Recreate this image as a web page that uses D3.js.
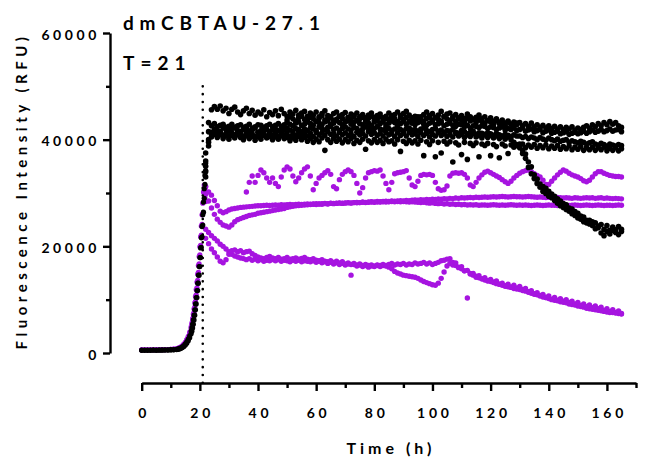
<!DOCTYPE html>
<html><head><meta charset="utf-8">
<script src="https://cdn.jsdelivr.net/npm/d3@7"></script>
<style>
html,body{margin:0;padding:0;background:#fff;}
svg text{font-family:Lato,"Open Sans",sans-serif;font-weight:700;fill:#000;}
</style></head><body><svg id="chart" width="645" height="463"></svg>
<script>
// ---------- DATA ----------
const titleText = "dmCBTAU-27.1";
const subtitleText = "T=21";
const xLabel = "Time (h)";
const yLabel = "Fluorescence Intensity (RFU)";
const xMajorTicks = [0,20,40,60,80,100,120,140,160];
const xMinorTicks = [10,30,50,70,90,110,130,150,170];
const yMajorTicks = [0,20000,40000,60000];
const yMinorTicks = [10000,30000,50000];
const markerHour = 21;

// early growth phase (h)
const riseHours = [0,1,2,3,4,5,6,7,8,9,10,11,
  12,12.5,13,13.5,14,14.5,15,15.5,16,16.5,17,
  17.25,17.5,17.75,18,18.25,18.5,18.75,19,19.25,19.5,19.75,20,20.25,20.5,20.75,21,21.25,21.5,21.75,22];
const blackRiseA = [550,560,550,560,570,560,570,580,590,600,620,650,
  700,760,850,980,1150,1400,1700,2100,2600,3200,4100,
  4700,5400,6200,7100,8100,9200,10400,11700,13100,14600,16200,17900,19700,21600,23700,25900,28300,30800,33300,35600];
const blackRiseB = [500,510,500,510,520,510,520,530,540,550,570,600,
  640,690,770,880,1020,1230,1500,1850,2300,2850,3600,
  4100,4700,5400,6200,7100,8100,9200,10400,11700,13100,14600,16200,17900,19800,21800,24000,26400,29000,31600,34200];
const purpleRiseA = [600,600,610,600,610,620,620,630,640,660,690,730,
  800,880,1000,1150,1350,1650,2000,2500,3100,3900,4900,
  5600,6400,7300,8300,9400,10600,11900,13300,14800,16400,18100,19900,21800,23800,25900,28100,30200,31500,30800,31200];
const purpleRiseB = [580,590,580,590,600,600,610,620,630,650,680,720,
  780,860,970,1120,1320,1600,1950,2400,2950,3700,4600,
  5200,5900,6700,7600,8600,9700,10900,12200,13600,15100,16700,18400,20200,22100,24100,26200,28300,30000,29200,28400];

// plateau phase (h)
const hours = [22,23,24,25,26,27,28,29,30,31,32,33,
  34,35,36,37,38,39,40,41,42,43,44,45,
  46,47,48,49,50,51,52,53,54,55,56,57,
  58,59,60,61,62,63,64,65,66,67,68,69,
  70,71,72,73,74,75,76,77,78,79,80,81,
  82,83,84,85,86,87,88,89,90,91,92,93,
  94,95,96,97,98,99,100,101,102,103,104,105,
  106,107,108,109,110,111,112,113,114,115,116,117,
  118,119,120,121,122,123,124,125,126,127,128,129,
  130,131,132,133,134,135,136,137,138,139,140,141,
  142,143,144,145,146,147,148,149,150,151,152,153,
  154,155,156,157,158,159,160,161,162,163,164,165];

const black1 = [37500,43200,45600,46200,45700,46300,45400,45900,44900,45700,46100,45200,
  44700,45400,45900,44900,45500,44600,45200,44800,45600,44300,45100,44700,
  45400,44500,45700,44900,44400,45200,44800,45500,44600,45000,45300,44400,
  45000,44600,45200,44300,44900,45400,44500,44100,44900,45200,44400,44700,
  45100,44200,44800,44500,45000,44300,44700,44100,44600,45000,44200,44500,
  44800,44100,44400,45000,44300,44700,45200,44500,44900,45300,44600,44100,
  44400,43800,44300,44700,45200,44500,44900,44200,44600,45300,44400,44800,
  45000,44300,44700,44100,44500,44000,44800,44300,43800,44200,44600,43900,
  44300,43600,44100,43500,43900,43300,43700,43100,43500,42900,43300,42800,
  43200,42600,43000,42500,43100,42400,42800,42300,42700,42200,42600,42100,
  42500,42000,42400,41900,42300,42000,42400,41800,42200,41900,42300,42600,
  42200,42800,42400,43000,42600,43200,42800,43400,42900,43200,42600,42300];
const black2 = [35000,40000,41400,42000,41700,41500,42200,41900,41600,42100,42300,41700,
  41500,41900,42100,41600,41800,42200,41400,41700,42000,41900,41500,41800,
  42000,41700,41500,41900,42200,41800,41600,42100,41900,41500,42000,41700,
  42200,42000,41700,42400,42100,41800,42300,42500,41900,42200,41700,42100,
  42400,42000,41800,42300,42100,41600,42000,42400,42200,41800,42100,42500,
  42000,41800,42300,42100,41700,42000,42300,41900,41600,42100,42200,41800,
  41900,41600,42000,42200,41700,41500,41900,42100,41600,41800,41400,41700,
  41600,41900,41400,41200,41700,41500,41100,41400,41600,41000,41300,41200,
  41000,41300,41100,40800,41200,40900,40700,41000,40800,40600,40900,40700,
  40700,40400,40600,40200,40500,40300,40000,40400,40100,39900,40300,40000,
  39800,40100,39700,39900,40000,39500,39800,39600,39400,39700,39500,39200,
  39400,39600,39200,39000,39300,39100,38800,39200,39000,38800,39100,38900];
const black3 = [34000,39500,41000,41500,40900,41400,40800,41200,40600,41300,40900,41500,
  41000,40700,41300,40800,41100,40600,41400,40900,41200,40700,41300,40800,
  41200,40700,41400,40900,41300,40600,41100,40800,41500,41000,41300,40700,
  41200,40600,41400,40900,41300,40800,41500,41000,41200,40700,41400,40900,
  41300,40800,41100,40600,41400,40900,41200,40700,41500,41000,41300,40800,
  41200,40700,41400,40900,41100,40600,41300,40800,41200,40700,41400,40900,
  41100,40600,41300,40800,41200,40500,41000,40700,41300,40800,41100,40600,
  41000,40500,41200,40700,41000,40400,40900,40600,41100,40500,40800,40300,
  40900,40400,40800,40300,40700,40200,40600,40100,40500,40000,39500,38900,
  38500,37400,37300,35800,34900,32700,32600,31100,31200,29900,30300,29100,
  29400,28100,28500,27300,27800,26600,27000,25800,26200,25100,25500,24400,
  24900,23900,24400,23500,24100,22000,23900,23000,23600,23100,23700,23200];
const black4 = [33000,38800,40500,41000,40400,40900,40200,40700,40100,40800,40300,40900,
  40400,40000,40700,40200,40600,39900,40500,40100,40800,40300,40600,40000,
  40500,40100,40700,40200,40400,39800,40300,39900,40600,40000,40400,39700,
  40200,39500,40100,39600,40300,38000,40000,39500,40200,39700,40100,39400,
  40000,39600,40200,39300,39900,39500,40100,38200,39800,39400,40000,39500,
  39900,39300,40100,39600,39800,39200,40000,37800,39700,39300,39900,39400,
  39800,39200,39900,37000,39600,39100,39800,36800,39500,37500,39700,39200,
  39600,35800,39400,39000,37200,39500,36300,39300,38900,39400,36800,39200,
  38900,39300,37000,39100,38700,36600,39200,38800,37400,39000,38600,39100,
  38800,39200,38500,39000,38600,39100,38400,38900,38500,39000,38300,38800,
  38400,38900,38200,38700,38300,38800,38100,38600,38200,38700,38000,38500,
  38100,38600,38000,38500,38100,38600,37900,38400,38000,38500,37900,38300];
const black5 = [36000,41500,42600,43000,42400,42700,42900,42300,42500,42900,42200,42600,
  42800,42300,42500,42900,42200,42400,42800,42700,42300,42600,42900,42400,
  42700,43000,42500,42800,43200,42900,42600,43100,43300,42700,42900,43300,
  43000,42700,43400,43200,42800,43300,43500,42900,43100,43600,43200,42800,
  43300,43500,42900,43200,43600,43000,42800,43400,43100,42700,43300,43500,
  43000,43300,42800,43100,43500,43200,42700,43000,43400,42900,43300,43100,
  42800,43200,43400,42900,42700,43100,43300,42800,43000,43200,42600,42900,
  43100,42700,42500,42900,42800,42400,42700,42200,42600,42500,42300,42600,
  42500,42100,42400,42300,41900,42200,42400,41800,42100,41900,42200,41700,
  41900,42200,41600,41800,42000,41500,41700,41900,41300,41600,41800,41200,
  41400,41600,41100,41300,41500,41000,41200,41400,41100,41300,41600,41200,
  41500,41800,41400,41600,41900,41500,41700,42000,41600,41800,41900,41500];
const black6 = [null,null,null,null,null,null,null,null,null,null,null,null,
  null,null,null,null,null,null,null,null,null,null,null,null,
  null,null,null,null,43700,44300,43900,43500,44100,44400,43800,43600,
  44200,43900,43400,44000,44500,43700,43900,44300,43600,43800,44400,44000,
  43500,44100,43800,44300,43600,43900,44200,43500,44000,44400,43700,43900,
  44300,43600,44000,43800,44500,43900,43400,44100,43800,44200,43500,44000,
  43700,44300,43900,43400,44000,44200,43600,44100,43800,43500,44300,43900,
  43600,44000,43400,43900,43700,43300,44000,43500,43800,43200,43700,43400,
  43100,43600,43300,42900,43500,43000,43200,42700,43300,42900,42600,43100,
  null,null,null,null,null,null,null,null,null,null,null,null,
  null,null,null,null,null,null,null,null,null,null,null,null,
  null,null,null,null,null,null,null,null,null,null,null,null];
const black7 = [null,null,null,null,null,null,null,null,null,null,null,null,
  null,null,null,null,null,null,null,null,null,null,null,null,
  null,null,null,null,null,null,null,null,null,null,null,null,
  null,null,null,null,null,null,null,null,null,null,null,null,
  null,null,null,null,null,null,null,null,null,null,null,null,
  null,null,null,null,null,null,null,null,null,null,null,null,
  null,null,null,null,null,null,null,null,null,null,null,null,
  null,null,null,null,null,null,null,null,null,null,null,null,
  null,null,null,null,null,null,null,null,null,null,null,null,
  39200,38000,36500,34800,33600,33400,31800,31700,30300,30900,29400,29800,
  28600,28900,27600,28000,26900,27200,26100,26500,25300,25700,24600,24900,
  24200,24600,23300,23800,22500,23200,22800,22300,23000,22600,22200,22800];

const purple1 = [null,null,null,null,null,null,null,null,null,null,null,null,
  null,null,30200,32000,33200,32000,33300,34300,33800,32800,32000,32800,
  31800,31200,33000,34300,34900,34500,33200,32100,32800,33800,34500,34900,
  33200,30600,31800,32800,33300,33800,34200,33500,31200,30800,32500,33500,
  34000,34300,34000,33300,31800,30000,31000,32800,33800,34000,34200,34100,
  34300,33200,31800,30600,32000,33600,33800,33900,34000,34200,32800,31500,
  31200,32200,33300,33500,33400,33500,33300,32000,30800,30500,30600,31300,
  33200,33700,33800,33700,33800,33500,32800,31500,31200,32000,32800,33400,
  33900,34100,33800,33500,33200,32900,32500,32100,31800,32200,32800,33300,
  33700,34000,34200,34300,34000,33600,33300,33000,32400,31600,31600,32200,
  32800,33400,33900,34300,34100,33700,33400,33200,33000,32700,32300,32100,
  32400,33000,33600,34000,34000,33700,33500,33300,33200,33100,33100,33000];
const purple2 = [31200,30200,29600,28600,27600,26600,26300,26500,26800,27000,27100,27200,
  27300,27350,27400,27450,27500,27550,27600,27600,27650,27700,27650,27700,
  27750,27700,27800,27750,27800,27850,27800,27850,27900,27850,27900,27950,
  27900,27950,28000,27950,28000,28050,28000,28100,28050,28100,28150,28100,
  28150,28200,28150,28200,28250,28200,28300,28250,28300,28350,28300,28400,
  28350,28400,28450,28400,28500,28450,28500,28550,28500,28600,28550,28650,
  28700,28650,28750,28700,28800,28750,28850,28800,28900,28850,28950,28900,
  29000,28950,29050,29000,29100,29050,29100,29150,29100,29200,29150,29200,
  29250,29200,29250,29300,29250,29300,29350,29300,29250,29300,29350,29300,
  29300,29250,29300,29350,29300,29250,29200,29250,29200,29150,29200,29150,
  29100,29150,29100,29050,29100,29050,29000,29100,29050,29000,29050,29100,
  29050,29100,29000,29050,29100,29000,29050,29000,28950,29000,28950,28900];
const purple3 = [29800,28500,27200,26000,25100,24500,24000,23800,23600,24000,24600,25000,
  25200,25400,25600,25800,25900,26000,26200,26300,26400,26500,26600,26700,
  26800,26900,27000,27100,27300,27400,27500,27600,27650,27700,27750,27800,
  27850,27900,27850,27950,27900,28000,27950,28050,28000,28050,28100,28050,
  28100,28150,28100,28200,28150,28200,28250,28200,28250,28300,28250,28300,
  28300,28350,28300,28350,28400,28350,28400,28350,28400,28350,28300,28350,
  28300,28250,28200,28250,28150,28100,28150,28050,28000,28050,27950,28000,
  27900,27950,27850,27900,27800,27850,27750,27800,27750,27800,27700,27750,
  27750,27700,27750,27800,27750,27700,27750,27700,27750,27800,27750,27700,
  27750,27700,27750,27700,27650,27700,27750,27700,27650,27700,27750,27700,
  27700,27650,27700,27750,27700,27650,27700,27750,27700,27650,27700,27750,
  27700,27650,27700,27750,27700,27650,27700,27700,27650,27700,27750,27700];
const purple4 = [21500,20500,19500,18800,18000,17200,16900,17500,18500,19200,19300,19000,
  19200,18800,19000,19100,18600,18300,18000,17800,17700,17900,18100,17800,
  17700,17900,17600,17700,17900,17600,17700,17800,17600,17750,17900,17600,
  17500,17700,17400,17300,17500,17200,17100,17300,17000,17200,16900,17100,
  16700,16900,16600,16800,16500,16700,16400,16600,16400,16500,16300,16500,
  16400,16600,16400,16600,16800,16500,16700,16600,16800,16500,16700,16600,
  16900,16700,16800,17000,16700,16900,16600,16800,17000,17300,17400,17600,
  17700,17000,16900,16100,16200,15400,15500,14800,14900,14200,14500,13900,
  14100,13600,13800,13300,13500,12900,13100,12600,12900,12400,12700,12200,
  12500,11900,12100,11500,11700,11100,11300,10800,11000,10400,10700,10100,
  10400,9900,10200,9700,10000,9500,9700,9200,9500,8900,9200,8700,
  9000,8500,8800,8300,8600,8000,8300,7800,8100,7600,7900,7400];
const purple5 = [23200,22600,22000,21500,21000,20400,20000,19500,19000,18500,18200,18000,
  17800,17700,17500,17700,17400,17600,17300,17500,17200,17400,17300,17500,
  17300,17500,17200,17400,17300,17100,17400,17200,17400,17100,17300,17200,
  17100,17300,17000,17200,16900,17100,16800,17000,16700,16900,16600,16800,
  16500,16700,14600,16600,16300,16500,16200,16400,16100,16300,16200,16400,
  16200,16400,16300,16100,15800,15300,15000,14800,14600,14500,14400,14300,
  14200,14000,13700,13400,13200,13000,12800,12700,13100,14000,15200,16300,
  16800,16500,16400,16000,15800,15400,10300,14900,14600,14400,14100,13900,
  13700,13500,13400,13200,13000,12900,12700,12500,12400,12300,12100,12000,
  11900,11700,11600,11400,11200,11000,10900,10700,10500,10400,10200,10000,
  9900,9800,9600,9500,9400,9200,9100,9000,8800,8700,8600,8400,
  8300,8200,8100,8000,7900,7800,7700,7600,7600,7500,7400,7300];

// ---------- CHART ----------
const purpleColor = "#a614e0";
const blackColor = "#000000";
const svg = d3.select("#chart");
svg.append("rect").attr("width",645).attr("height",463).attr("fill","#fff");

const x = d3.scaleLinear().domain([0,170]).range([141.7,636]);
const y = d3.scaleLinear().domain([0,60000]).range([353,33]);
const yAxisX = 110, xAxisY = 383;

const plot = svg.append("g");
function drawSeries(times, vals, color, r){
  const pts = times.map((t,i)=>({t:t, v:vals[i]})).filter(d=>d.v!=null);
  plot.append("g").selectAll("circle").data(pts).join("circle")
    .attr("cx", d=>x(d.t)).attr("cy", d=>y(d.v)).attr("r", r).attr("fill", color);
}
[purple5, purple4, purple3, purple2, purple1].forEach(s=>drawSeries(hours, s, purpleColor, 2.7));
[purpleRiseA, purpleRiseB].forEach(s=>drawSeries(riseHours, s, purpleColor, 2.6));
[black4, black2, black5, black6, black1, black3, black7].forEach(s=>drawSeries(hours, s, blackColor, 2.8));
[blackRiseA, blackRiseB].forEach(s=>drawSeries(riseHours, s, blackColor, 2.6));

// dotted marker line
svg.append("line")
  .attr("x1", x(markerHour)).attr("x2", x(markerHour))
  .attr("y1", y(50000)).attr("y2", xAxisY)
  .attr("stroke","#000").attr("stroke-width",2.6)
  .attr("stroke-linecap","round").attr("stroke-dasharray","0,7.8");

// axes
function styleAxis(g, ls){
  g.selectAll("path,line").attr("stroke","#000").attr("stroke-width",2.4);
  g.selectAll("text").attr("fill","#000").style("font-size","14px").style("letter-spacing",ls)
    .style("font-family","Lato, 'Open Sans', sans-serif").style("font-weight","700");
}
const yAx = svg.append("g").attr("transform",`translate(${yAxisX},0)`)
  .call(d3.axisLeft(y).tickValues(yMajorTicks).tickSize(7).tickSizeOuter(0).tickPadding(3).tickFormat(d3.format("d")));
styleAxis(yAx, "3.6px");
yAx.selectAll("text").attr("dy","0.45em");
const yAxMinor = svg.append("g").attr("transform",`translate(${yAxisX},0)`)
  .call(d3.axisLeft(y).tickValues(yMinorTicks).tickSize(4).tickFormat(""));
yAxMinor.select(".domain").remove();
styleAxis(yAxMinor, "0px");

const xAx = svg.append("g").attr("transform",`translate(0,${xAxisY})`)
  .call(d3.axisBottom(x).tickValues(xMajorTicks).tickSize(8).tickSizeOuter(0).tickPadding(17).tickFormat(d3.format("d")));
styleAxis(xAx, "3.8px");
xAx.selectAll("text").attr("dx","1.9px");
const xAxMinor = svg.append("g").attr("transform",`translate(0,${xAxisY})`)
  .call(d3.axisBottom(x).tickValues(xMinorTicks).tickSize(5).tickFormat(""));
xAxMinor.select(".domain").remove();
styleAxis(xAxMinor, "0px");

// titles
svg.append("text").attr("x",123).attr("y",30).style("font-size","19px").style("letter-spacing","5.8px").text(titleText);
svg.append("text").attr("x",123).attr("y",70).style("font-size","19px").style("letter-spacing","6px").text(subtitleText);
svg.append("text").attr("x",391).attr("y",454).attr("text-anchor","middle")
  .style("font-size","16px").style("letter-spacing","4px").text(xLabel);
svg.append("text").attr("transform","translate(27,191) rotate(-90)").attr("text-anchor","middle")
  .style("font-size","15px").style("letter-spacing","4.5px").text(yLabel);
</script></body></html>
